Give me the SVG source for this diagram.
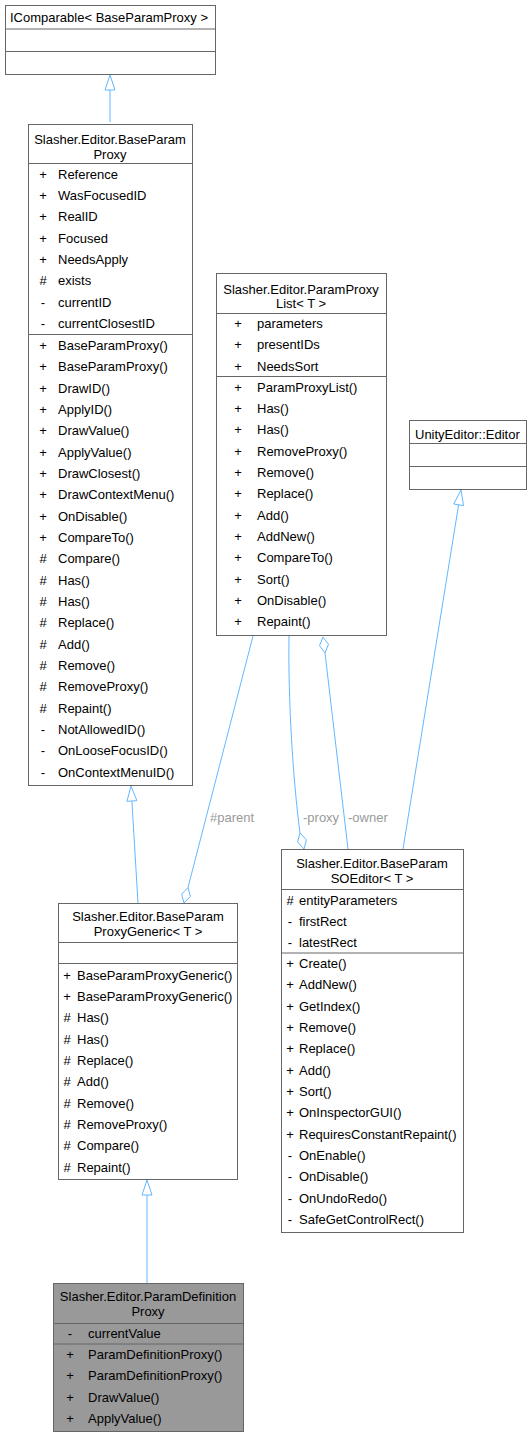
<svg xmlns="http://www.w3.org/2000/svg" width="532" height="1437" viewBox="0 0 532 1437">
<style>
text{font-family:"Liberation Sans",Arial,sans-serif;font-size:13px;fill:#000}
.box{fill:#fff;stroke:#666;stroke-width:1}
.hl{fill:#999;stroke:#666;stroke-width:1}
.sep{stroke:#666;stroke-width:1}
.t{text-anchor:middle}
.s{text-anchor:middle}
.edge{fill:none;stroke:#63b8ff;stroke-width:1}
.head{fill:#fff;stroke:#63b8ff;stroke-width:1}
.lbl{fill:#9a9a9a}
</style>
<rect width="532" height="1437" fill="#fff"/>
<g id="connectors">
  <path class="edge" d="M110,122 L110,90"/>
  <polygon class="head" points="110,75 105,90 115,90"/>
  <path class="edge" d="M138,903 L131.9,801"/>
  <polygon class="head" points="131,786 136.9,800.7 126.9,801.3"/>
  <path class="edge" d="M147,1283 L147,1195"/>
  <polygon class="head" points="147,1180 142,1195 152,1195"/>
  <path class="edge" d="M403,849 L458.6,504.8"/>
  <polygon class="head" points="461,490 463.5,505.6 453.7,504"/>
  <path class="edge" d="M253,636 L188,887.5"/>
  <polygon class="head" points="184,903 190.4,896.4 188,887.5 181.6,894.2"/>
  <path class="edge" d="M289,636 C288,700 293,780 300,833"/>
  <polygon class="head" points="304,849 306.4,839.9 300,833 297.6,842.1"/>
  <path class="edge" d="M325,653 L348,849"/>
  <polygon class="head" points="323,637 328.5,644.4 325,653 319.5,645.6"/>
  <text class="lbl" x="210" y="822">#parent</text>
  <text class="lbl" x="303" y="822">-proxy</text>
  <text class="lbl" x="348" y="822">-owner</text>
</g>
<g id="IComparable">
  <rect class="box" x="5.5" y="5.5" width="210" height="69"/>
  <line class="sep" x1="5.5" y1="29" x2="215.5" y2="29"/>
  <line class="sep" x1="5.5" y1="51.5" x2="215.5" y2="51.5"/>
  <text x="10" y="22">IComparable&lt; BaseParamProxy &gt;</text>
</g>
<g id="BaseParamProxy">
  <rect class="box" x="28.5" y="124.5" width="164" height="661"/>
  <line class="sep" x1="28.5" y1="163.5" x2="192.5" y2="163.5"/>
  <line class="sep" x1="28.5" y1="334.5" x2="192.5" y2="334.5"/>
  <text class="t" x="110" y="144">Slasher.Editor.BaseParam</text>
  <text class="t" x="110" y="159">Proxy</text>
  <g>
    <text class="s" x="43" y="178.5">+</text><text x="58" y="178.5">Reference</text>
    <text class="s" x="43" y="199.8">+</text><text x="58" y="199.8">WasFocusedID</text>
    <text class="s" x="43" y="221.2">+</text><text x="58" y="221.2">RealID</text>
    <text class="s" x="43" y="242.5">+</text><text x="58" y="242.5">Focused</text>
    <text class="s" x="43" y="263.8">+</text><text x="58" y="263.8">NeedsApply</text>
    <text class="s" x="43" y="285.2">#</text><text x="58" y="285.2">exists</text>
    <text class="s" x="43" y="306.5">-</text><text x="58" y="306.5">currentID</text>
    <text class="s" x="43" y="327.8">-</text><text x="58" y="327.8">currentClosestID</text>
  </g>
  <g>
    <text class="s" x="43" y="350">+</text><text x="58" y="350">BaseParamProxy()</text>
    <text class="s" x="43" y="371.3">+</text><text x="58" y="371.3">BaseParamProxy()</text>
    <text class="s" x="43" y="392.7">+</text><text x="58" y="392.7">DrawID()</text>
    <text class="s" x="43" y="414">+</text><text x="58" y="414">ApplyID()</text>
    <text class="s" x="43" y="435.3">+</text><text x="58" y="435.3">DrawValue()</text>
    <text class="s" x="43" y="456.7">+</text><text x="58" y="456.7">ApplyValue()</text>
    <text class="s" x="43" y="478">+</text><text x="58" y="478">DrawClosest()</text>
    <text class="s" x="43" y="499.3">+</text><text x="58" y="499.3">DrawContextMenu()</text>
    <text class="s" x="43" y="520.7">+</text><text x="58" y="520.7">OnDisable()</text>
    <text class="s" x="43" y="542">+</text><text x="58" y="542">CompareTo()</text>
    <text class="s" x="43" y="563.3">#</text><text x="58" y="563.3">Compare()</text>
    <text class="s" x="43" y="584.7">#</text><text x="58" y="584.7">Has()</text>
    <text class="s" x="43" y="606">#</text><text x="58" y="606">Has()</text>
    <text class="s" x="43" y="627.3">#</text><text x="58" y="627.3">Replace()</text>
    <text class="s" x="43" y="648.7">#</text><text x="58" y="648.7">Add()</text>
    <text class="s" x="43" y="670">#</text><text x="58" y="670">Remove()</text>
    <text class="s" x="43" y="691.3">#</text><text x="58" y="691.3">RemoveProxy()</text>
    <text class="s" x="43" y="712.7">#</text><text x="58" y="712.7">Repaint()</text>
    <text class="s" x="43" y="734">-</text><text x="58" y="734">NotAllowedID()</text>
    <text class="s" x="43" y="755.3">-</text><text x="58" y="755.3">OnLooseFocusID()</text>
    <text class="s" x="43" y="776.7">-</text><text x="58" y="776.7">OnContextMenuID()</text>
  </g>
</g>
<g id="ParamProxyList">
  <rect class="box" x="216.5" y="273.5" width="170" height="362"/>
  <line class="sep" x1="216.5" y1="313.5" x2="386.5" y2="313.5"/>
  <line class="sep" x1="216.5" y1="376.5" x2="386.5" y2="376.5"/>
  <text class="t" x="301" y="294">Slasher.Editor.ParamProxy</text>
  <text class="t" x="301" y="308">List&lt; T &gt;</text>
  <text class="s" x="238" y="328">+</text><text x="257" y="328">parameters</text>
  <text class="s" x="238" y="349.3">+</text><text x="257" y="349.3">presentIDs</text>
  <text class="s" x="238" y="370.7">+</text><text x="257" y="370.7">NeedsSort</text>
  <text class="s" x="238" y="391.5">+</text><text x="257" y="391.5">ParamProxyList()</text>
  <text class="s" x="238" y="412.8">+</text><text x="257" y="412.8">Has()</text>
  <text class="s" x="238" y="434.2">+</text><text x="257" y="434.2">Has()</text>
  <text class="s" x="238" y="455.5">+</text><text x="257" y="455.5">RemoveProxy()</text>
  <text class="s" x="238" y="476.8">+</text><text x="257" y="476.8">Remove()</text>
  <text class="s" x="238" y="498.2">+</text><text x="257" y="498.2">Replace()</text>
  <text class="s" x="238" y="519.5">+</text><text x="257" y="519.5">Add()</text>
  <text class="s" x="238" y="540.8">+</text><text x="257" y="540.8">AddNew()</text>
  <text class="s" x="238" y="562.2">+</text><text x="257" y="562.2">CompareTo()</text>
  <text class="s" x="238" y="583.5">+</text><text x="257" y="583.5">Sort()</text>
  <text class="s" x="238" y="604.8">+</text><text x="257" y="604.8">OnDisable()</text>
  <text class="s" x="238" y="626.2">+</text><text x="257" y="626.2">Repaint()</text>
</g>
<g id="UnityEditorEditor">
  <rect class="box" x="409.5" y="420.5" width="117" height="69"/>
  <line class="sep" x1="409.5" y1="443.5" x2="526.5" y2="443.5"/>
  <line class="sep" x1="409.5" y1="466.5" x2="526.5" y2="466.5"/>
  <text x="415" y="438.5">UnityEditor::Editor</text>
</g>
<g id="BaseParamSOEditor">
  <rect class="box" x="281.5" y="849.5" width="182" height="383"/>
  <line class="sep" x1="281.5" y1="889.5" x2="463.5" y2="889.5"/>
  <line class="sep" x1="281.5" y1="953" x2="463.5" y2="953"/>
  <text class="t" x="372" y="867.5">Slasher.Editor.BaseParam</text>
  <text class="t" x="372" y="882.5">SOEditor&lt; T &gt;</text>
  <text class="s" x="290" y="904.5">#</text><text x="299" y="904.5">entityParameters</text>
  <text class="s" x="290" y="925.8">-</text><text x="299" y="925.8">firstRect</text>
  <text class="s" x="290" y="947.2">-</text><text x="299" y="947.2">latestRect</text>
  <text class="s" x="290" y="968">+</text><text x="299" y="968">Create()</text>
  <text class="s" x="290" y="989.3">+</text><text x="299" y="989.3">AddNew()</text>
  <text class="s" x="290" y="1010.7">+</text><text x="299" y="1010.7">GetIndex()</text>
  <text class="s" x="290" y="1032">+</text><text x="299" y="1032">Remove()</text>
  <text class="s" x="290" y="1053.3">+</text><text x="299" y="1053.3">Replace()</text>
  <text class="s" x="290" y="1074.7">+</text><text x="299" y="1074.7">Add()</text>
  <text class="s" x="290" y="1096">+</text><text x="299" y="1096">Sort()</text>
  <text class="s" x="290" y="1117.3">+</text><text x="299" y="1117.3">OnInspectorGUI()</text>
  <text class="s" x="290" y="1138.7">+</text><text x="299" y="1138.7">RequiresConstantRepaint()</text>
  <text class="s" x="290" y="1160">-</text><text x="299" y="1160">OnEnable()</text>
  <text class="s" x="290" y="1181.3">-</text><text x="299" y="1181.3">OnDisable()</text>
  <text class="s" x="290" y="1202.7">-</text><text x="299" y="1202.7">OnUndoRedo()</text>
  <text class="s" x="290" y="1224">-</text><text x="299" y="1224">SafeGetControlRect()</text>
</g>
<g id="BaseParamProxyGeneric">
  <rect class="box" x="58.5" y="903.5" width="179" height="276"/>
  <line class="sep" x1="58.5" y1="942.5" x2="237.5" y2="942.5"/>
  <line class="sep" x1="58.5" y1="963.5" x2="237.5" y2="963.5"/>
  <text class="t" x="148" y="920.5">Slasher.Editor.BaseParam</text>
  <text class="t" x="148" y="935.5">ProxyGeneric&lt; T &gt;</text>
  <text class="s" x="67" y="979.5">+</text><text x="77" y="979.5">BaseParamProxyGeneric()</text>
  <text class="s" x="67" y="1000.8">+</text><text x="77" y="1000.8">BaseParamProxyGeneric()</text>
  <text class="s" x="67" y="1022.2">#</text><text x="77" y="1022.2">Has()</text>
  <text class="s" x="67" y="1043.5">#</text><text x="77" y="1043.5">Has()</text>
  <text class="s" x="67" y="1064.8">#</text><text x="77" y="1064.8">Replace()</text>
  <text class="s" x="67" y="1086.2">#</text><text x="77" y="1086.2">Add()</text>
  <text class="s" x="67" y="1107.5">#</text><text x="77" y="1107.5">Remove()</text>
  <text class="s" x="67" y="1128.8">#</text><text x="77" y="1128.8">RemoveProxy()</text>
  <text class="s" x="67" y="1150.2">#</text><text x="77" y="1150.2">Compare()</text>
  <text class="s" x="67" y="1171.5">#</text><text x="77" y="1171.5">Repaint()</text>
</g>
<g id="ParamDefinitionProxy">
  <rect class="hl" x="53.5" y="1283.5" width="190" height="148"/>
  <line class="sep" x1="53.5" y1="1323.5" x2="243.5" y2="1323.5"/>
  <line class="sep" x1="53.5" y1="1344" x2="243.5" y2="1344"/>
  <text class="t" x="148" y="1300.5">Slasher.Editor.ParamDefinition</text>
  <text class="t" x="148" y="1316">Proxy</text>
  <text class="s" x="70" y="1338">-</text><text x="88" y="1338">currentValue</text>
  <text class="s" x="70" y="1359">+</text><text x="88" y="1359">ParamDefinitionProxy()</text>
  <text class="s" x="70" y="1380.3">+</text><text x="88" y="1380.3">ParamDefinitionProxy()</text>
  <text class="s" x="70" y="1401.7">+</text><text x="88" y="1401.7">DrawValue()</text>
  <text class="s" x="70" y="1423">+</text><text x="88" y="1423">ApplyValue()</text>
</g>
</svg>
